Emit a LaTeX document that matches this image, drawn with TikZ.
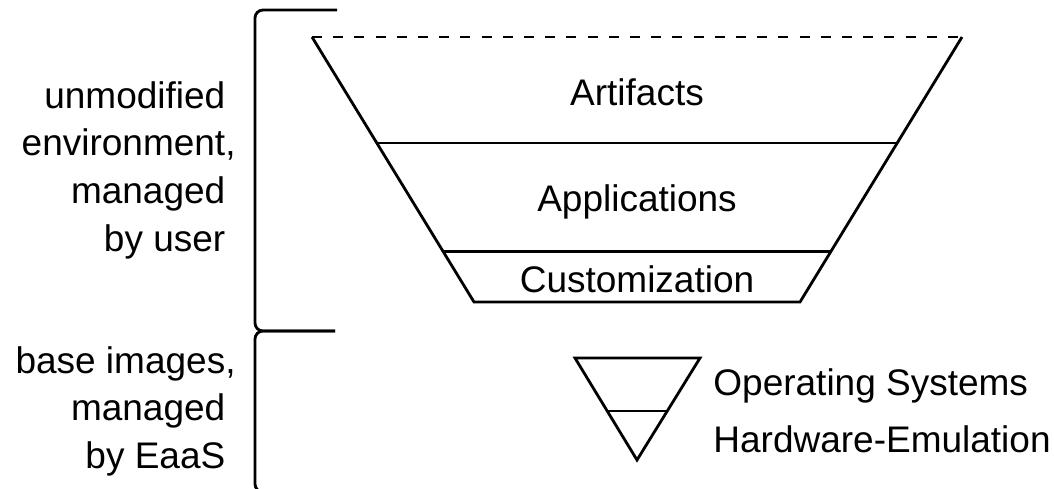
\documentclass[tikz,border=0pt]{standalone}
\usepackage{fontspec}
\setmainfont{Liberation Sans}
\usetikzlibrary{calc}

\begin{document}
\begin{tikzpicture}[
  x=0.5pt, y=-0.5pt,
  line width=1.4pt,
  every node/.style={font=\fontsize{18.5}{23.8}\selectfont, inner sep=0pt},
  layer/.style={anchor=base},
  side/.style={align=right, anchor=north east},
  osname/.style={anchor=base west},
  bracket/.style={rounded corners=4pt}
]
\useasboundingbox (0,0) rectangle (1054,488);

% big funnel
\coordinate (tl) at (312,37);
\coordinate (tr) at (962,37);
\coordinate (bl) at (474,302);
\coordinate (br) at (800,302);
\draw[dash pattern=on 5pt off 5.6pt] (tl) -- (tr);
\draw (tl) -- (bl) -- (br) -- (tr);
\draw ($(tl)!0.4!(bl)$) -- ($(tr)!0.4!(br)$);
\draw ($(tl)!0.808!(bl)$) -- ($(tr)!0.808!(br)$);

\node[layer] (artifacts) at (637,105) {Artifacts};
\node[layer] (apps) at (637,211) {Applications};
\node[layer] (custom) at (637,292) {Customization};

% small funnel
\coordinate (stl) at (575,358);
\coordinate (str) at (700,358);
\coordinate (sap) at (637,460);
\draw (stl) -- (str) -- (sap) -- cycle;
\draw ($(stl)!0.52!(sap)$) -- ($(str)!0.52!(sap)$);

\node[osname] (os) at (712,395) {Operating Systems};
\node[osname] (hw) at (712,452) {Hardware-Emulation};

% brackets
\draw[bracket] (337,10) -- (255,10) -- (255,331) -- (335,331);
\draw[bracket] (335,331) -- (255,331) -- (255,492) -- (335,492);

\node[side] (user) at (237,80) {unmodified\phantom{,}\\environment,\\managed\phantom{,}\\by user\phantom{,}};
\node[side] (eaas) at (237,345) {base images,\\managed\phantom{,}\\by EaaS\phantom{,}};
\end{tikzpicture}
\end{document}
